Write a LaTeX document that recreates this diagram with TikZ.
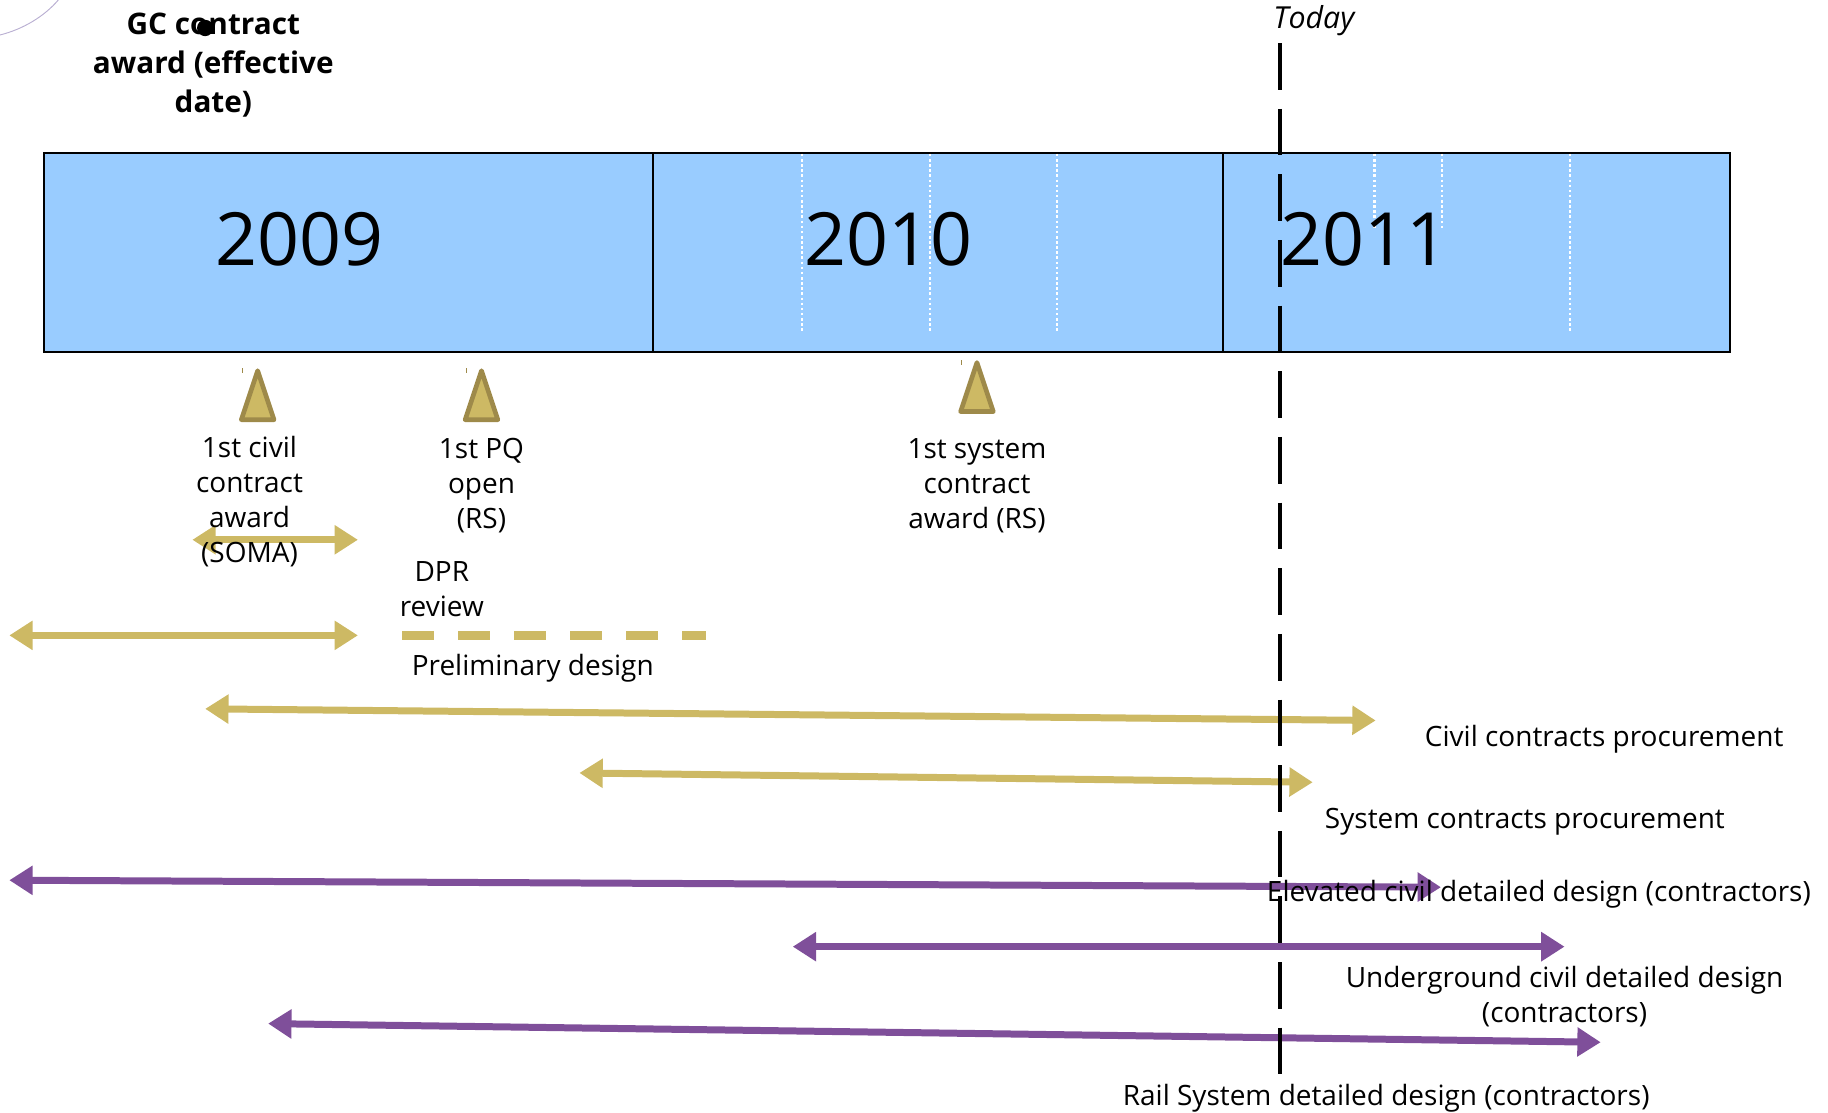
\documentclass[tikz,border=0pt]{standalone}
\usepackage{fontspec}
\setmainfont{Open Sans}
\usetikzlibrary{arrows.meta}
\definecolor{barblue}{RGB}{153,204,255}
\definecolor{goldc}{RGB}{205,185,100}
\definecolor{golddark}{RGB}{158,138,74}
\definecolor{purp}{RGB}{127,79,154}
\definecolor{lav}{RGB}{185,175,210}
\tikzset{
  yearseg/.style={draw=black, line width=1.5pt, fill=barblue},
  yeartext/.style={font=\fontsize{63}{70}\selectfont, inner sep=0pt},
  lbl/.style={font=\fontsize{24}{30}\selectfont, align=center, inner sep=0pt},
  ttl/.style={font=\bfseries\fontsize{25.5}{33.5}\selectfont, align=center, inner sep=0pt},
  wdot/.style={draw=white, line width=1.8pt, dash pattern=on 2.2pt off 2.2pt},
  tipa/.tip={Triangle[length=20pt,width=24pt]},
  goldarrow/.style={draw=goldc, line width=6pt, tipa-tipa},
  purparrow/.style={draw=purp, line width=6pt, tipa-tipa},
  golddash/.style={draw=goldc, line width=8pt, dash pattern=on 27pt off 21pt},
  msmark/.style={fill=goldc, draw=golddark, line width=4pt, line join=round},
  todayline/.style={draw=black, line width=4pt, dash pattern=on 40pt off 16.3pt}
}
\begin{document}
\begin{tikzpicture}[x=1pt,y=-1pt]
\useasboundingbox (0,0) rectangle (1568,954);
% decorative arc at top-left
\draw[lav, line width=0.8pt] (0,30) .. controls (20,25) and (38,14) .. (50,0);
% title
\node[ttl] (gc) at (183,56) {GC contract\\award (effective\\date)};
\fill[black] (176,24) circle (7pt);
\node[font=\itshape\fontsize{26}{30}\selectfont, inner sep=0pt] (today) at (1127,18) {Today};
% bar
\draw[yearseg] (38,131) rectangle (560,302);
\draw[yearseg] (560,131) rectangle (1049,302);
\draw[yearseg] (1049,131) rectangle (1484,302);
\foreach \x in {688,798,907,1347} \draw[wdot] (\x,132) -- (\x,285);
\foreach \x in {1179,1237} \draw[wdot] (\x,132) -- (\x,196);
\node[yeartext] (y2009) at (257,205) {2009};
\node[yeartext] (y2010) at (762,205) {2010};
\node[yeartext] (y2011) at (1170,205) {2011};
% milestones
\foreach \x/\t in {221/318,413/318,838/311}{
  \draw[msmark] (\x-14,\t+42) -- (\x,\t) -- (\x+14,\t+42) -- cycle;
  \draw[golddark, line width=1pt] (\x-13,\t-2) -- (\x-13,\t+2);
}
% arrow endpoints
\coordinate (a1l) at (165,463); \coordinate (a1r) at (307,463);
\coordinate (a2l) at (8,545);   \coordinate (a2r) at (307,545);
\coordinate (d1) at (345,545);  \coordinate (d2) at (606,545);
\coordinate (a3l) at (176,608); \coordinate (a3r) at (1180,618);
\coordinate (a4l) at (497,663); \coordinate (a4r) at (1126,671);
\coordinate (p1l) at (8,755);   \coordinate (p1r) at (1236,761);
\coordinate (p2l) at (680,812); \coordinate (p2r) at (1342,812);
\coordinate (p3l) at (230,878); \coordinate (p3r) at (1373,894);
\draw[goldarrow] (a1l) -- (a1r);
\draw[goldarrow] (a2l) -- (a2r);
\draw[golddash] (d1) -- (d2);
\draw[goldarrow] (a3l) -- (a3r);
\draw[goldarrow] (a4l) -- (a4r);
\draw[purparrow] (p1l) -- (p1r);
\draw[purparrow] (p2l) -- (p2r);
\draw[purparrow] (p3l) -- (p3r);
% today line
\coordinate (t1) at (1098,37);
\coordinate (t2) at (1098,922);
\draw[todayline] (t1) -- (t2);
% labels
\node[lbl] (m1) at (214,430) {1st civil\\contract\\award\\(SOMA)};
\node[lbl] (m2) at (413,416.5) {1st PQ\\open\\(RS)};
\node[lbl] (m3) at (838,416.5) {1st system\\contract\\award (RS)};
\node[lbl] (dpr) at (379,505) {DPR\\review};
\node[lbl] (pre) at (457,573) {Preliminary design};
\node[lbl] (cp) at (1376,634) {Civil contracts procurement};
\node[lbl] (sp) at (1308,705) {System contracts procurement};
\node[lbl] (ev) at (1320,767) {Elevated civil detailed design (contractors)};
\node[lbl] (ug) at (1342,855) {Underground civil detailed design\\(contractors)};
\node[lbl] (rs) at (1189,942) {Rail System detailed design (contractors)};
\end{tikzpicture}
\end{document}
